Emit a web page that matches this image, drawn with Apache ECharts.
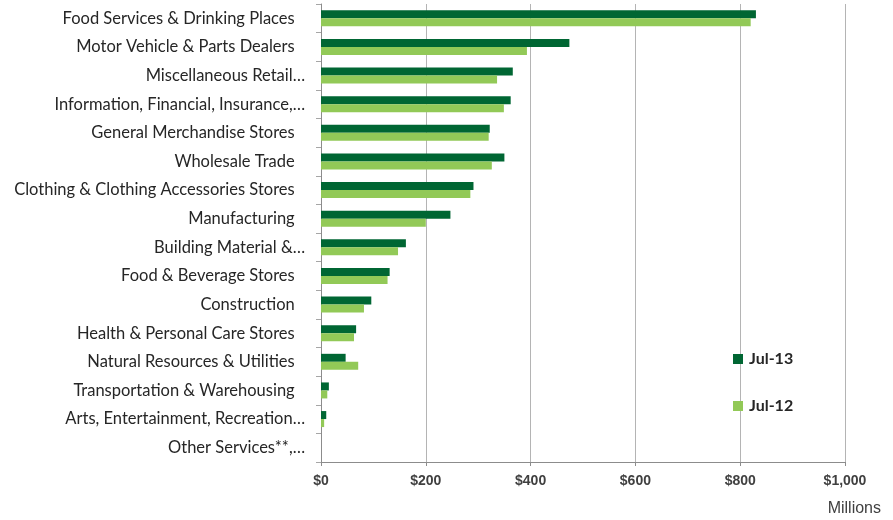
<!DOCTYPE html>
<html>
<head>
<meta charset="utf-8">
<script src="https://cdn.jsdelivr.net/npm/echarts@6/dist/echarts.min.js"></script>
<style>
  html, body { margin: 0; padding: 0; background: #fff; }
  #chart { width: 893px; height: 520px; }
</style>
</head>
<body>
<div id="chart"></div>
<script>
// Industry categories, top to bottom
const categories = [
  'Food Services & Drinking Places',
  'Motor Vehicle & Parts Dealers',
  'Miscellaneous Retail…',
  'Information, Financial, Insurance,…',
  'General Merchandise Stores',
  'Wholesale Trade',
  'Clothing & Clothing Accessories Stores',
  'Manufacturing',
  'Building Material &…',
  'Food & Beverage Stores',
  'Construction',
  'Health & Personal Care Stores',
  'Natural Resources & Utilities',
  'Transportation & Warehousing',
  'Arts, Entertainment, Recreation…',
  'Other Services**,…'
];

// Values in millions of dollars
const jul13 = [830, 474, 366, 362, 322, 350, 291, 247, 162, 131, 96, 67, 47, 15, 10, 0];
const jul12 = [820, 393, 336, 349, 320, 326, 285, 200, 147, 127, 82, 63, 71, 12, 6, 0];

const seriesNames = ['Jul-13', 'Jul-12'];
const xTicks = [0, 200, 400, 600, 800, 1000];

const chart = echarts.init(document.getElementById('chart'));

chart.setOption({
  animation: false,
  backgroundColor: '#ffffff',
  grid: { left: 321, right: 48, top: 4, bottom: 58, containLabel: false },
  legend: {
    orient: 'vertical',
    left: 728,
    top: 346,
    itemWidth: 10,
    itemHeight: 10,
    itemGap: 31,
    icon: 'rect',
    data: seriesNames,
    textStyle: {
      fontFamily: 'Lato',
      fontWeight: 'bold',
      fontSize: 16,
      color: '#262626',
      padding: [0, 0, 0, 1]
    }
  },
  xAxis: {
    type: 'value',
    min: xTicks[0],
    max: xTicks[xTicks.length - 1],
    interval: 200,
    axisLine: { show: true, lineStyle: { color: '#8c8c8c', width: 1 } },
    axisTick: { show: true, length: 4, lineStyle: { color: '#8c8c8c' } },
    splitLine: { show: true, lineStyle: { color: '#b4b4b4', width: 1 } },
    axisLabel: {
      margin: 12,
      fontFamily: 'Liberation Sans',
      fontWeight: 'bold',
      fontSize: 14,
      color: '#404040',
      formatter: v => '$' + v.toLocaleString('en-US')
    }
  },
  yAxis: {
    type: 'category',
    inverse: true,
    data: categories,
    axisLine: { show: true, lineStyle: { color: '#8c8c8c', width: 1 } },
    axisTick: { show: true, length: 5, inside: false, lineStyle: { color: '#a6a6a6' } },
    axisLabel: {
      margin: 16,
      fontFamily: 'Lato',
      fontSize: 16.5,
      color: '#262626',
      // names cut short with an ellipsis sit a little further right
      formatter: v => v.endsWith('…') ? v : v + '\u2002\u2009'
    }
  },
  series: [
    {
      name: seriesNames[0],
      type: 'bar',
      data: jul13,
      barWidth: 8,
      barGap: '0%',
      itemStyle: { color: '#006633' }
    },
    {
      name: seriesNames[1],
      type: 'bar',
      data: jul12,
      barWidth: 8,
      barGap: '0%',
      itemStyle: { color: '#92c957' }
    }
  ],
  graphic: [
    {
      type: 'text',
      right: 12,
      top: 501,
      style: {
        text: 'Millions',
        fontFamily: 'Liberation Sans',
        fontSize: 16,
        fill: '#404040'
      }
    }
  ]
});
</script>
</body>
</html>
